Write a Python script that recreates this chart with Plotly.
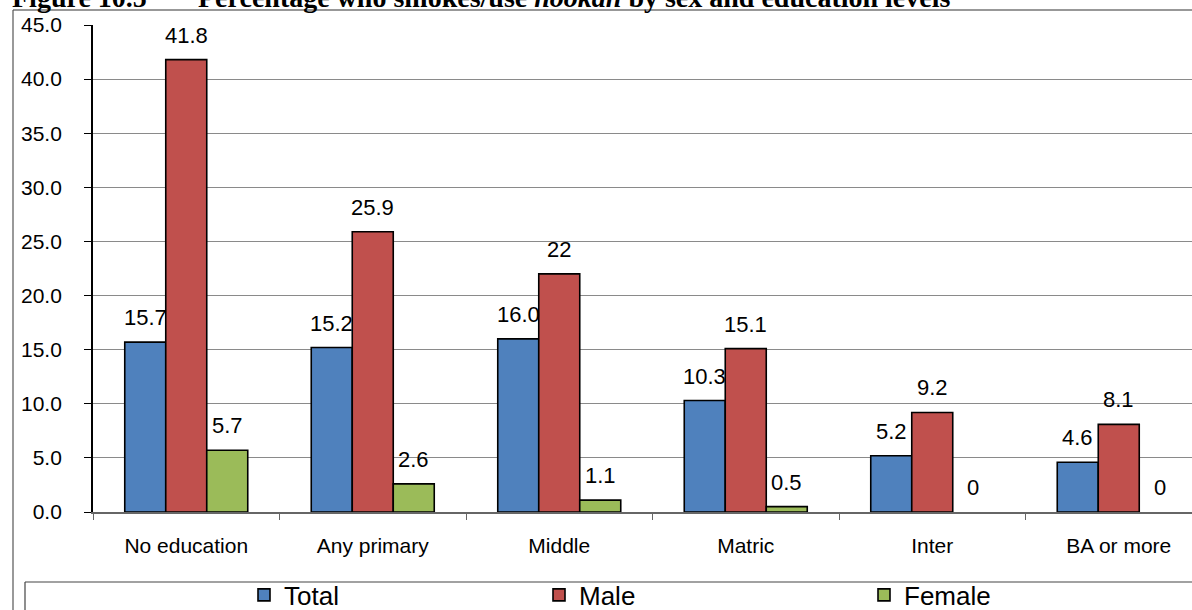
import plotly.graph_objects as go

# Education levels on the category axis
categories = ["No education", "Any primary", "Middle", "Matric", "Inter", "BA or more"]

# Percentages as printed above each bar
total_labels = ["15.7", "15.2", "16.0", "10.3", "5.2", "4.6"]
male_labels = ["41.8", "25.9", "22", "15.1", "9.2", "8.1"]
female_labels = ["5.7", "2.6", "1.1", "0.5", "0", "0"]

series_names = ["Total", "Male", "Female"]
series_colors = ["#4F81BD", "#C0504D", "#9BBB59"]

y_ticks = [0, 5, 10, 15, 20, 25, 30, 35, 40, 45]

series_labels = [total_labels, male_labels, female_labels]
series_values = [[float(s) for s in labs] for labs in series_labels]

W, H = 1192, 610
PL, PR, PT, PB = 93, 1192, 25, 512
CAT_W = 186.5  # pixel width of one category slot
BAR_W = 41     # pixel width of one bar


def fx(p):
    return (p - PL) / (PR - PL)


def fy(p):
    return (PB - p) / (PB - PT)


FONT = "Liberation Sans"

fig = go.Figure()
legend_ids = ["legend", "legend2", "legend3"]
for name, color, vals, lid in zip(series_names, series_colors, series_values, legend_ids):
    fig.add_trace(go.Bar(
        name=name,
        x=categories,
        y=vals,
        marker=dict(
            color=color,
            # empty bars get no outline
            line=dict(color="#000000", width=[1.6 if v > 0 else 0 for v in vals]),
        ),
        legend=lid,
    ))

# Value labels sitting above each bar
annotations = []
for k, (labs, vals) in enumerate(zip(series_labels, series_values)):
    for cat, lab, v in zip(categories, labs, vals):
        annotations.append(dict(
            x=cat, y=v, xref="x", yref="y", text=lab, showarrow=False,
            xanchor="center", yanchor="bottom", xshift=(k - 1) * BAR_W, yshift=10,
            font=dict(family=FONT, size=22, color="#000000"),
        ))

# Figure caption across the top
annotations.append(dict(
    x=fx(10), y=fy(15), xref="paper", yref="paper", xanchor="left", yanchor="bottom",
    text="<b>Figure 10.5</b>", showarrow=False,
    font=dict(family="Liberation Serif", size=28, color="#000000"),
))
annotations.append(dict(
    x=fx(196), y=fy(15), xref="paper", yref="paper", xanchor="left", yanchor="bottom",
    text="<b>Percentage who smokes/use <i>hookah</i> by sex and education levels</b>",
    showarrow=False,
    font=dict(family="Liberation Serif", size=28, color="#000000"),
))

shapes = [
    # outer chart frame
    dict(type="line", xref="paper", yref="paper", x0=fx(13), x1=fx(1200), y0=fy(10), y1=fy(10),
         line=dict(color="#333333", width=1.2)),
    dict(type="line", xref="paper", yref="paper", x0=fx(13), x1=fx(13), y0=fy(10), y1=fy(620),
         line=dict(color="#555555", width=1.2)),
    # legend frame
    dict(type="line", xref="paper", yref="paper", x0=fx(25), x1=fx(1200), y0=fy(582), y1=fy(582),
         line=dict(color="#444444", width=1.2)),
    dict(type="line", xref="paper", yref="paper", x0=fx(25), x1=fx(25), y0=fy(582), y1=fy(620),
         line=dict(color="#444444", width=1.2)),
]

legend_style = dict(
    orientation="h", xanchor="left", yanchor="middle",
    font=dict(family=FONT, size=26, color="#000000"),
    bgcolor="rgba(0,0,0,0)", borderwidth=0, itemwidth=30,
)

fig.update_layout(
    width=W, height=H,
    margin=dict(l=PL, r=W - PR, t=PT, b=H - PB, pad=0, autoexpand=False),
    paper_bgcolor="#FFFFFF", plot_bgcolor="#FFFFFF",
    barmode="group", bargap=1 - 3 * BAR_W / CAT_W, bargroupgap=0,
    showlegend=True,
    legend=dict(legend_style, x=fx(244), y=fy(595)),
    legend2=dict(legend_style, x=fx(539), y=fy(595)),
    legend3=dict(legend_style, x=fx(864), y=fy(595)),
    annotations=annotations,
    shapes=shapes,
    xaxis=dict(
        type="category",
        range=[-0.5, -0.5 + (PR - PL) / CAT_W],
        tickson="boundaries", ticks="outside", ticklen=6, tickcolor="#666666",
        showline=True, linecolor="#666666", linewidth=1.5,
        showgrid=False, zeroline=False,
        tickfont=dict(family=FONT, size=21, color="#000000"),
        ticklabelstandoff=14,
    ),
    yaxis=dict(
        range=[0, 45], tickvals=y_ticks, tickformat=".1f",
        ticks="outside", ticklen=7, tickcolor="#000000", tickwidth=1.2,
        showline=True, linecolor="#000000", linewidth=1.8,
        showgrid=True, gridcolor="#8A8A8A", gridwidth=1,
        zeroline=False,
        tickfont=dict(family=FONT, size=21, color="#000000"),
        ticklabelstandoff=18,
    ),
)

fig.write_html("out.html")
